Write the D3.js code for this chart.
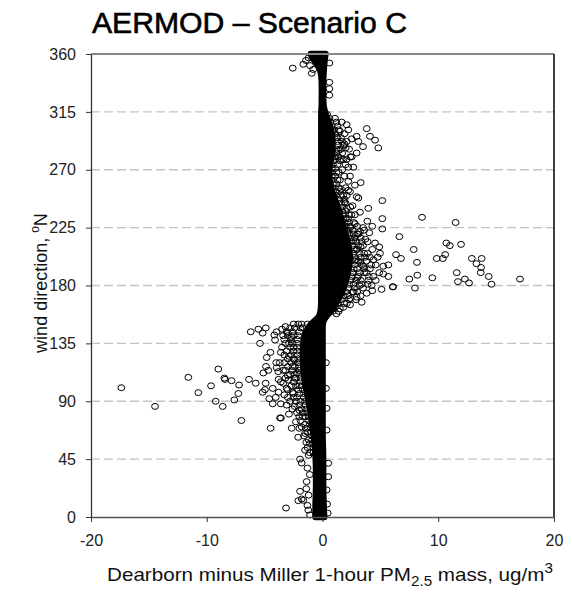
<!DOCTYPE html>
<html><head><meta charset="utf-8">
<script src="https://cdn.jsdelivr.net/npm/d3@7"></script>
<style>
body{margin:0;background:#fff;}
text{font-family:"Liberation Sans",Arial,sans-serif;}
</style></head>
<body><svg id="c" width="572" height="597"></svg>
<script>
// ---- data ----
const xTicks = [-20, -10, 0, 10, 20];
const yTicks = [0, 45, 90, 135, 180, 225, 270, 315, 360];
// dense core of the scatter: envelope of point centres per wind direction
const bandAngle = [0,5,10,20,30,40,50,60,70,80,90,100,110,120,130,140,146,150,153,156,160,165,170,175,180,190,200,210,220,230,240,250,260,270,280,290,300,310,315,320,330,340,348,353,357,360];
const bandLo    = [-0.6,-0.6,-0.6,-0.55,-0.55,-0.55,-0.6,-0.7,-0.85,-1.0,-1.2,-1.4,-1.6,-1.7,-1.7,-1.6,-1.3,-1.0,-0.6,-0.25,-0.15,-0.1,-0.1,-0.1,-0.1,-0.1,-0.1,-0.1,-0.1,-0.1,-0.1,-0.1,-0.1,-0.1,-0.1,-0.1,-0.1,-0.1,-0.1,-0.05,-0.05,-0.05,-0.15,-0.5,-0.9,-1.0];
const bandHi    = [0.15,0.1,0.1,0.05,0.05,0.05,0.05,0.0,0.0,0.0,0.0,0.0,0.0,0.0,0.0,0.0,0.0,0.0,0.1,0.3,0.7,1.1,1.4,1.7,1.9,2.2,2.4,2.3,2.0,1.6,1.4,0.9,0.6,0.5,0.8,0.9,0.8,0.4,0.2,0.05,0.05,0.05,0.1,0.15,0.2,0.25];
// individual points [difference ug/m3, wind direction deg]
const pointsRight = [[3.82,302],[5.17,246],[8.6,233],[11.5,229],[5.17,232],[5.17,224],[3.96,240],[6.64,218],[7.88,208],[10.7,213],[11.0,211],[11.97,212],[6.35,204],[6.78,201],[9.87,201],[10.4,201],[10.6,204],[8.16,198],[12.9,201],[13.75,201],[13.3,197],[13.7,194],[13.67,190],[14.36,187],[14.6,181],[17.06,185],[11.6,190],[12.3,185],[12.66,182],[11.7,183],[9.49,186],[8.19,188],[7.5,185],[7.99,178],[6.06,179]];
const pointsNearRight = [[0.59,353],[0.59,338],[0.59,333],[0.59,328],[1.08,310],[1.66,307],[2.09,305],[2.23,301],[2.52,294],[2.95,296],[3.1,292],[4.1,296],[4.54,293],[4.82,287],[2.95,283],[2.52,280],[2.09,278],[1.66,278],[2.66,272],[2.38,265],[2.23,261],[2.38,253],[2.95,249],[1.8,278],[2.23,272],[2.23,254],[3.1,248],[3.24,237],[3.87,230],[4.04,221],[3.24,222],[4.54,213],[4.9,210],[4.97,205],[4.77,202],[5.69,196],[5.25,195],[5.25,189],[5.69,187],[6.1,179],[5.1,177],[4.25,180],[4.39,187],[3.39,167],[2.38,165],[2.95,171],[3.82,174],[3.96,184],[3.53,195],[4.1,193],[3.67,202],[2.95,208],[2.66,215],[3.39,214],[1.5,300],[1.9,290],[1.4,285],[1.7,270],[1.3,262],[1.6,255],[1.9,245],[2.1,240],[2.5,235],[2.8,228],[2.4,225],[3.0,220],[3.3,210],[2.9,200],[3.3,198],[3.6,190],[3.0,186],[3.2,180],[2.7,175],[2.4,170],[1.9,166],[1.5,162],[1.2,158],[2.6,190],[3.9,205],[4.4,200],[4.6,196],[4.9,190],[4.6,184],[4.3,176],[2.0,232],[2.6,242],[1.8,250],[3.5,225],[4.3,226],[3.7,216],[1.2,268],[1.0,280],[0.9,300],[1.3,295],[3.5,288],[2.0,287],[3.3,260],[2.8,258],[0.36,84.5],[0.36,67.6],[0.5,41.8],[0.5,31.3],[0.36,21],[0.4,10],[0.3,100],[0.3,120],[0.45,3]];
const pointsRightDense = [[0.9,160],[1.4,160],[1.1,163],[1.8,163],[1.3,166],[2.1,166],[1.6,169],[2.3,169],[2.9,169],[1.8,172],[2.2,172],[3.3,172],[2.0,175],[2.6,175],[3.0,175],[2.2,178],[2.8,178],[3.5,178],[2.3,181],[2.7,181],[3.4,181],[3.9,181],[2.4,184],[2.9,184],[3.3,184],[2.5,187],[3.1,187],[4.0,187],[2.6,190],[3.2,190],[3.8,190],[2.7,193],[3.0,193],[3.6,193],[2.8,196],[3.4,196],[4.2,196],[2.8,199],[3.1,199],[3.8,199],[2.8,202],[3.3,202],[4.1,202],[2.7,205],[3.2,205],[3.6,205],[2.7,208],[3.0,208],[4.3,208],[2.6,211],[3.1,211],[3.5,211],[2.5,214],[2.9,214],[3.9,214],[2.4,217],[2.8,217],[3.3,217],[2.3,220],[2.7,220],[3.1,220],[2.2,223],[2.6,223],[3.6,223],[2.0,226],[2.4,226],[3.0,226],[1.9,229],[2.3,229],[2.7,229],[1.8,232],[2.2,232],[1.8,235],[2.3,235],[2.8,235],[1.7,238],[2.0,238],[1.7,241],[2.4,241],[1.6,244],[2.0,244],[1.4,247],[1.9,247],[1.2,250],[1.6,250],[2.1,250],[1.1,253],[1.5,253],[0.9,256],[1.4,256],[2.0,256],[0.9,259],[1.2,259],[0.8,262],[1.5,262],[0.8,265],[1.1,265],[1.9,265],[0.8,268],[1.4,268],[0.8,271],[1.1,271],[0.9,274],[1.3,274],[2.0,274],[1.0,277],[1.5,277],[1.1,280],[1.4,280],[2.4,280],[1.2,283],[1.7,283],[1.2,286],[1.6,286],[2.3,286],[1.3,289],[1.8,289],[1.3,292],[1.7,292],[2.1,292],[1.2,295],[1.6,295],[1.1,298],[1.9,298],[1.0,301],[1.4,301],[0.8,304],[1.3,304],[0.7,307],[1.2,307],[0.6,310],[0.4,313]];
const pointsTopLeft = [[-2.57,349],[-1.66,352],[-1.43,355],[-1.08,351],[-0.93,345],[-1.2,357],[-0.8,348]];
const pointsLeft = [[-17.38,100.5],[-14.47,86],[-11.59,108.6],[-10.73,96.7],[-9.63,102],[-9.0,115],[-9.23,90],[-8.62,86],[-8.42,107],[-8.48,108],[-7.85,106],[-7.21,102.6],[-7.27,96],[-7.62,91],[-7.01,75],[-6.35,107],[-5.77,104],[-4.91,104],[-4.97,99],[-5.17,97],[-4.48,69],[-4.3,88],[-4.04,93],[-3.67,77],[-6.2,144],[-5.54,146],[-5.17,143],[-5.4,135],[-4.82,124],[-4.88,117],[-4.68,114],[-5.11,112],[-4.16,141.5],[-3.96,144],[-4.1,137.6],[-3.82,113],[-3.39,114],[-3.96,116],[-2.66,69],[-3.39,104],[-2.95,106.5],[-3.1,100],[-3.59,77],[-1.94,45],[-1.8,42],[-1.94,20],[-1.8,14],[-1.66,13],[-2.09,12.7],[-3.15,7],[-1.37,27.5],[-1.23,5.4],[-1.08,1.6],[-1.51,52],[-3.5,146],[-3.0,143],[-2.7,140],[-3.2,135],[-2.5,132],[-3.6,128],[-2.9,125],[-2.4,122],[-3.3,120],[-2.6,117],[-2.2,112],[-3.0,110],[-2.4,108],[-2.0,102],[-2.6,97],[-3.3,95],[-2.2,93],[-2.8,90],[-3.6,88],[-2.4,86],[-2.0,83],[-2.9,80],[-1.7,78],[-2.3,74],[-1.8,70],[-1.5,65],[-2.1,62],[-1.4,58],[-1.2,48],[-1.3,38],[-1.1,33],[-1.4,22],[-1.2,17],[-1.3,9],[-4.5,128],[-4.0,120],[-3.8,107],[-4.3,100],[-3.8,97],[-4.6,92],[-4.9,147],[-3.2,148],[-2.1,150],[-1.7,147]];
const pointsLeftDense = [[-1.3,150],[-1.8,150],[-2.5,150],[-1.9,147],[-2.4,147],[-2.8,147],[-2.0,144],[-2.6,144],[-3.1,144],[-2.1,141],[-2.5,141],[-3.0,141],[-3.4,141],[-2.2,138],[-2.7,138],[-3.3,138],[-2.2,135],[-2.6,135],[-2.9,135],[-2.2,132],[-2.8,132],[-3.5,132],[-2.2,129],[-2.5,129],[-3.1,129],[-2.2,126],[-2.7,126],[-3.3,126],[-2.1,123],[-2.5,123],[-3.0,123],[-2.1,120],[-2.7,120],[-3.7,120],[-2.0,117],[-2.4,117],[-3.0,117],[-2.0,114],[-2.6,114],[-3.2,114],[-2.0,111],[-2.4,111],[-2.8,111],[-1.9,108],[-2.3,108],[-3.2,108],[-1.9,105],[-2.5,105],[-3.6,105],[-1.8,102],[-2.3,102],[-2.7,102],[-1.7,99],[-2.1,99],[-3.0,99],[-1.6,96],[-2.0,96],[-2.5,96],[-1.6,93],[-2.5,93],[-3.0,93],[-1.5,90],[-1.9,90],[-2.3,90],[-1.5,87],[-2.0,87],[-3.1,87],[-1.4,84],[-1.8,84],[-2.6,84],[-1.3,81],[-1.7,81],[-2.2,81],[-1.2,78],[-1.5,78],[-2.0,78],[-1.2,75],[-1.9,75],[-1.1,72],[-1.5,72],[-1.0,69],[-1.4,69],[-2.0,69],[-1.0,66],[-1.3,66],[-0.9,63],[-1.6,63],[-0.9,60],[-1.2,60],[-0.8,57],[-1.1,57],[-0.8,54],[-1.3,54],[-0.8,50],[-1.1,50]];

// ---- layout ----
const L = 91, R = 554, T = 54, B = 517;
const x = d3.scaleLinear().domain([-20, 20]).range([L, R]);
const y = d3.scaleLinear().domain([0, 360]).range([B, T]);
const svg = d3.select("#c");

// gridlines
svg.append("g").selectAll("line").data(yTicks.filter(v => v > 0 && v < 360)).join("line")
  .attr("x1", L).attr("x2", R).attr("y1", d => y(d)).attr("y2", d => y(d))
  .attr("stroke", "#c4c4c4").attr("stroke-width", 1.3).attr("stroke-dasharray", "9,4");

// dense band
const band = bandAngle.map((a, i) => ({a, lo: bandLo[i], hi: bandHi[i]}));
const area = d3.area().y(d => y(d.a)).x0(d => x(d.lo)).x1(d => x(d.hi)).curve(d3.curveBasis);
svg.append("path").datum(band).attr("d", area)
  .attr("fill", "#000").attr("stroke", "#000").attr("stroke-width", 6.6).attr("stroke-linejoin", "round");

// points
const pts = [].concat(pointsRight, pointsNearRight, pointsRightDense, pointsTopLeft, pointsLeft, pointsLeftDense);
svg.append("g").selectAll("ellipse").data(pts).join("ellipse")
  .attr("cx", d => x(d[0])).attr("cy", d => y(d[1]))
  .attr("rx", 3.4).attr("ry", 3.0)
  .attr("fill", "none").attr("stroke", "#000").attr("stroke-width", 1);

// frame
svg.append("line").attr("x1", L).attr("x2", R).attr("y1", T).attr("y2", T).attr("stroke", "#888").attr("stroke-width", 2);
svg.append("line").attr("x1", R).attr("x2", R).attr("y1", T).attr("y2", B).attr("stroke", "#000").attr("stroke-width", 1.5);

// axes
const fmt = d => String(d);
const ya = svg.append("g").attr("transform", `translate(${L},0)`)
  .call(d3.axisLeft(y).tickValues(yTicks).tickFormat(fmt).tickSize(5).tickSizeOuter(0).tickPadding(10));
ya.select(".domain").attr("stroke", "#333").attr("stroke-width", 1.3);
ya.selectAll(".tick line").attr("stroke", "#333");
ya.selectAll("text").attr("font-size", 16).attr("fill", "#222").attr("font-family", "Liberation Sans, Arial, sans-serif");

const xa = svg.append("g").attr("transform", `translate(0,${B})`)
  .call(d3.axisBottom(x).tickValues(xTicks).tickFormat(fmt).tickSize(5).tickSizeOuter(0).tickPadding(13));
xa.select(".domain").attr("stroke", "#555").attr("stroke-width", 1.5);
xa.selectAll(".tick line").attr("stroke", "#333");
xa.selectAll("text").attr("font-size", 16).attr("fill", "#222").attr("font-family", "Liberation Sans, Arial, sans-serif");

// title
svg.append("text").attr("x", 249.5).attr("y", 33).attr("text-anchor", "middle")
  .attr("font-family", "Lato, 'Open Sans', sans-serif").attr("font-size", 29)
  .attr("stroke", "#000").attr("stroke-width", 0.6)
  .attr("textLength", 315).attr("lengthAdjust", "spacingAndGlyphs")
  .text("AERMOD – Scenario C");

// x label
const xl = svg.append("text").attr("x", 330).attr("y", 581).attr("text-anchor", "middle")
  .attr("font-size", 19).attr("fill", "#111")
  .attr("textLength", 446).attr("lengthAdjust", "spacingAndGlyphs");
xl.append("tspan").text("Dearborn minus Miller 1-hour PM");
xl.append("tspan").attr("font-size", 14).attr("dy", 5).text("2.5");
xl.append("tspan").attr("dy", -5).text(" mass, ug/m");
xl.append("tspan").attr("font-size", 14).attr("dy", -8).text("3");

// y label
const yl = svg.append("text").attr("transform", "translate(47,283) rotate(-90)").attr("text-anchor", "middle")
  .attr("font-size", 18).attr("fill", "#111");
yl.append("tspan").text("wind direction, ");
yl.append("tspan").attr("font-size", 12).attr("dy", -8).text("o");
yl.append("tspan").attr("dy", 8).text("N");
</script></body></html>
